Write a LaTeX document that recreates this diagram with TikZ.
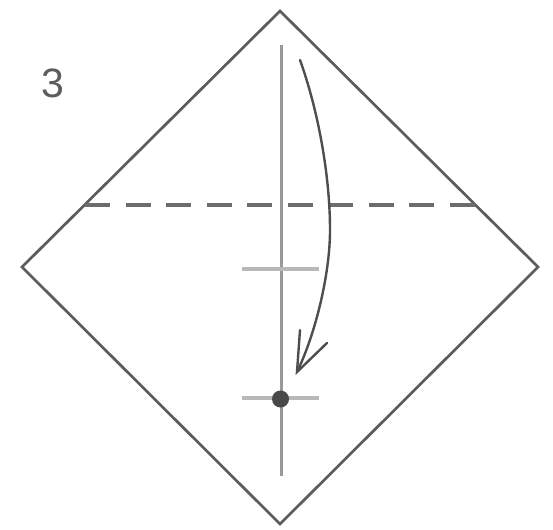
\documentclass[tikz,border=0pt]{standalone}
\usepackage{fontspec}
\setmainfont{Liberation Sans}
\definecolor{ink}{gray}{0.36}
\definecolor{softink}{gray}{0.72}
\definecolor{midink}{gray}{0.60}
\tikzset{
  paper/.style={draw=ink,line width=2.7pt,line join=miter},
  creaseline/.style={draw=midink,line width=2.2pt},
  tickline/.style={draw=softink,line width=3.2pt},
  foldline/.style={draw=ink!90,line width=3.2pt,dash pattern=on 25pt off 15.5pt},
  movearrow/.style={draw=ink!85!black,line width=2.4pt,line cap=round,line join=miter},
  numlabel/.style={text=ink,font=\fontsize{41}{41}\selectfont,inner sep=0pt}
}
\begin{document}
\begin{tikzpicture}[x=1pt,y=-1pt]
\useasboundingbox[fill=white] (0,0) rectangle (553,529);
\coordinate (top) at (280,11);
\coordinate (right) at (538,267);
\coordinate (bottom) at (280,524);
\coordinate (left) at (22,267);
\coordinate (cTop) at (281.5,45);
\coordinate (cBot) at (281.5,476);
\coordinate (tickAL) at (242,269);
\coordinate (tickAR) at (319,269);
\coordinate (tickBL) at (242,398);
\coordinate (tickBR) at (319,398);
\coordinate (foldL) at (85,205);
\coordinate (foldR) at (476,205);
\coordinate (arrowStart) at (300,60);
\coordinate (arrowTip) at (297,372);
\coordinate (barbA) at (300,330);
\coordinate (barbB) at (327,343);
\draw[paper] (top) -- (right) -- (bottom) -- (left) -- cycle;
\draw[creaseline] (cTop) -- (cBot);
\draw[tickline] (tickAL) -- (tickAR);
\draw[tickline] (tickBL) -- (tickBR);
\draw[foldline] (foldL) -- (foldR);
\draw[movearrow] (arrowStart) .. controls (318,110) and (330,175) .. (330,230)
  .. controls (330,275) and (315,335) .. (arrowTip);
\draw[movearrow] (barbA) -- (arrowTip) -- (barbB);
\node[circle,fill=ink!80!black,minimum size=17pt,inner sep=0pt] (pivot) at (280.5,399) {};
\node[numlabel] (num) at (52.5,83) {3};
\end{tikzpicture}
\end{document}
